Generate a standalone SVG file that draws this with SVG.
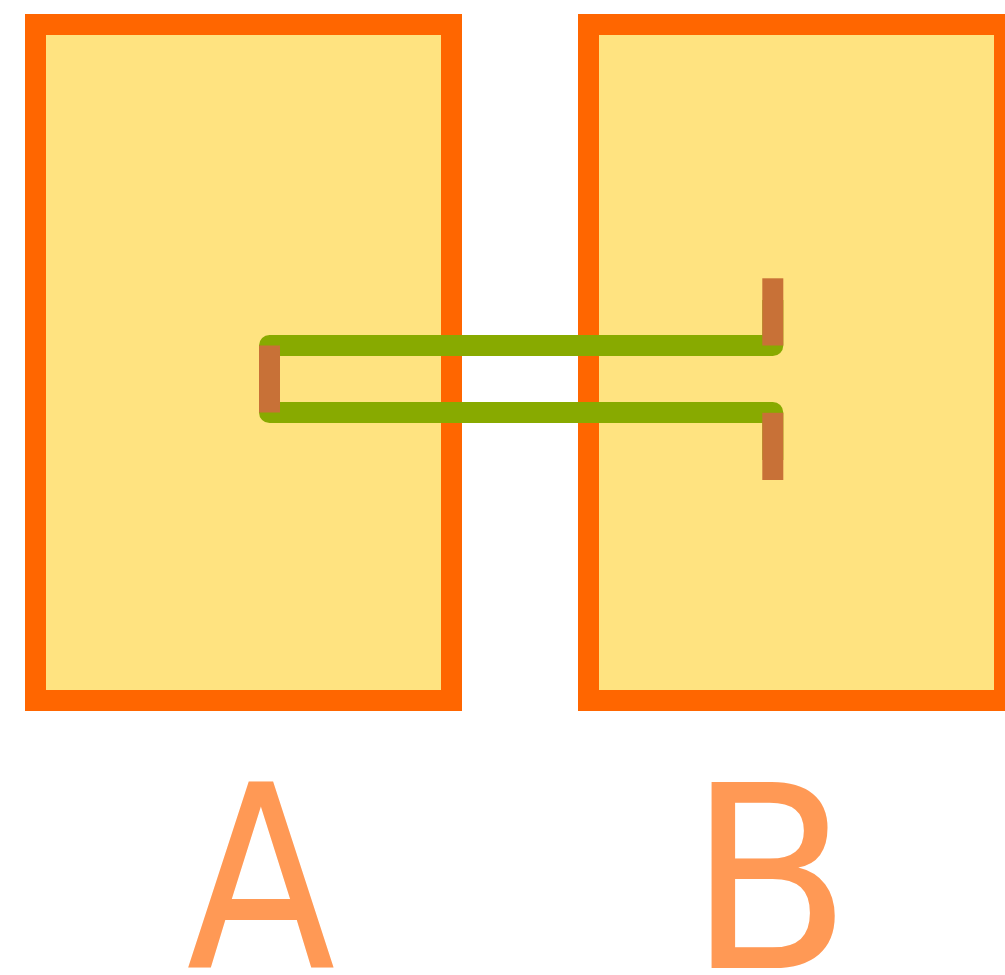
<svg xmlns="http://www.w3.org/2000/svg" width="1005" height="975" viewBox="0 0 1005 975">
  <style>
    .box { fill: #ffe380; stroke: #ff6600; stroke-width: 21; }
    .wire { fill: none; stroke: #88aa00; stroke-width: 21; stroke-linejoin: round; }
    .port { fill: #c87137; }
    .label { font-family: "DejaVu Sans", sans-serif; font-size: 256px; fill: #ff9955; text-anchor: middle; }
  </style>
  <rect width="1005" height="975" fill="#ffffff"/>
  <g id="node-A">
    <rect class="box" x="35.5" y="24.5" width="416" height="676"/>
  </g>
  <g id="node-B">
    <rect class="box" x="588.5" y="24.5" width="416" height="676"/>
  </g>
  <g id="connectors">
    <path class="wire" d="M 772.8 300 V 345.5 H 269.5 V 412.5 H 772.8 V 460"/>
  </g>
  <g id="ports">
    <rect class="port" x="259" y="345.5" width="21" height="67"/>
    <rect class="port" x="762.3" y="278.3" width="21" height="67.2"/>
    <rect class="port" x="762.3" y="412.8" width="21" height="67.2"/>
  </g>
  <g id="label-A">
    <text class="label" transform="translate(260.8,968) scale(0.85,1)">A</text>
  </g>
  <g id="label-B">
    <text class="label" transform="translate(770,968) scale(0.93,1)">B</text>
  </g>
</svg>
